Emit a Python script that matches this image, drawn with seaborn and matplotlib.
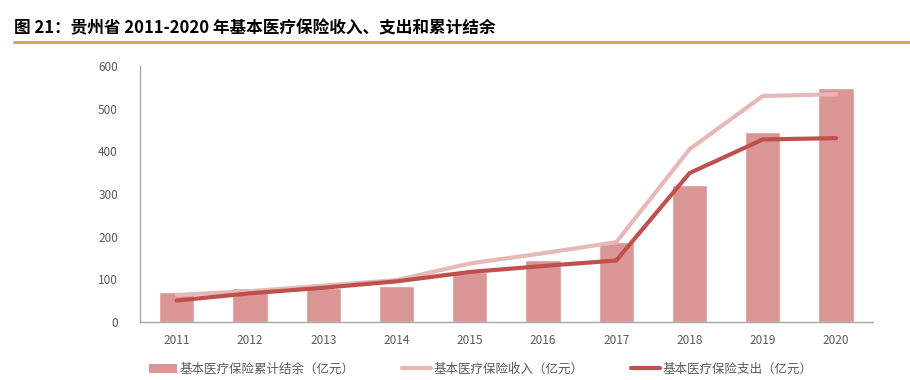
import numpy as np
import pandas as pd
import matplotlib.pyplot as plt
import seaborn as sns
from matplotlib.lines import Line2D
from matplotlib.patches import Patch

# data (亿元)
years = ['2011', '2012', '2013', '2014', '2015', '2016', '2017', '2018', '2019', '2020']
balance = [71, 79, 80, 85, 118, 145, 187, 321, 445, 548]
income = [63, 72, 85, 98, 137, 161, 187, 405, 530, 534]
expense = [50, 67, 80, 95, 117, 131, 144, 349, 428, 431]

bar_color = '#D99694'
income_color = '#E6B9B8'
expense_color = '#C0504D'
grey = '#595959'

sns.set_style('white')
plt.rcParams['font.family'] = ['Noto Sans CJK SC', 'DejaVu Sans']

df = pd.DataFrame({'year': years, 'balance': balance, 'income': income, 'expense': expense})
df['pos'] = np.arange(len(df))

fig = plt.figure(figsize=(9.1, 3.8), dpi=100)
ax = fig.add_axes([0.154, 0.153, 0.805, 0.673])

sns.barplot(data=df, x='year', y='balance', color=bar_color, width=0.48,
            saturation=1, ax=ax)
sns.lineplot(data=df, x='pos', y='income', color=income_color, linewidth=3, ax=ax)
sns.lineplot(data=df, x='pos', y='expense', color=expense_color, linewidth=3, ax=ax)

ax.set_ylim(0, 600)
ax.set_yticks(range(0, 601, 100))
ax.set_xlim(-0.5, len(years) - 0.5)
ax.set_xticks(df['pos'])
ax.set_xticklabels(years)
ax.set_xlabel('')
ax.set_ylabel('')
ax.tick_params(axis='both', length=0, labelsize=8.5, labelcolor=grey)
ax.tick_params(axis='y', pad=16)
ax.tick_params(axis='x', pad=9)
for side in ['top', 'right']:
    ax.spines[side].set_visible(False)
for side in ['left', 'bottom']:
    ax.spines[side].set_color('#A6A6A6')
    ax.spines[side].set_linewidth(1)

# title and rule
fig.text(0.015, 0.927, '图 21：贵州省 2011-2020 年基本医疗保险收入、支出和累计结余',
         fontsize=12, fontweight='bold', color='black', ha='left', va='center')
fig.add_artist(Line2D([0.015, 1.0], [0.889, 0.889], color='#C9A063', linewidth=2,
                      transform=fig.transFigure))

handles = [Patch(facecolor=bar_color, edgecolor='none'),
           Line2D([0], [0], color=income_color, linewidth=3),
           Line2D([0], [0], color=expense_color, linewidth=3)]
labels = ['基本医疗保险累计结余（亿元）', '基本医疗保险收入（亿元）', '基本医疗保险支出（亿元）']
leg = fig.legend(handles, labels, loc='center', bbox_to_anchor=(0.528, 0.028), ncol=3,
                 frameon=False, fontsize=9, handlelength=2.3, handletextpad=0.2,
                 columnspacing=3.8)
for t in leg.get_texts():
    t.set_color(grey)

fig.savefig('out.png', dpi=100)
